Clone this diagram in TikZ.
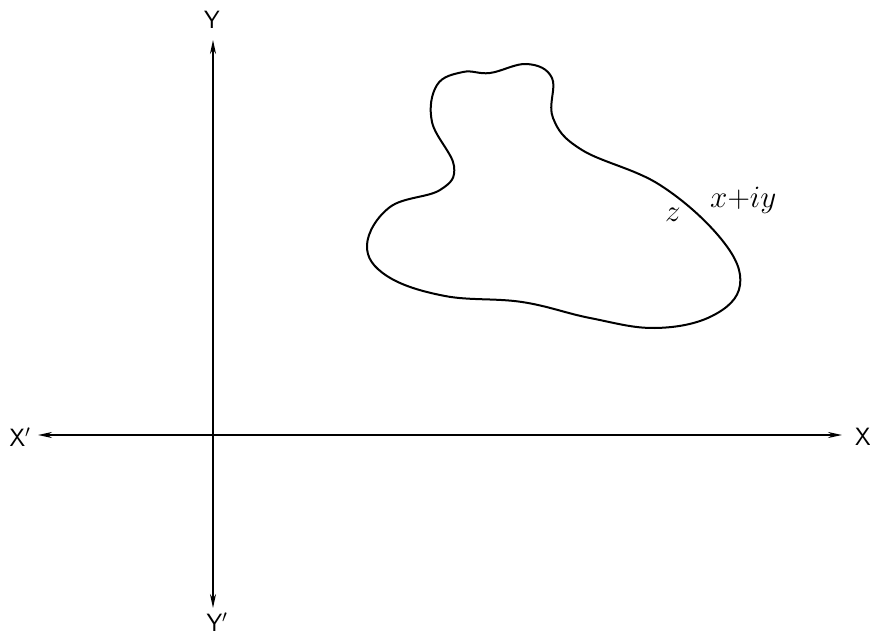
\documentclass[tikz,border=0pt]{standalone}
\usetikzlibrary{arrows.meta}
\tikzset{
  axis/.style={line width=1.8pt,-{Stealth[length=14pt,width=6pt]}},
  axlabel/.style={font=\sffamily\fontsize{25}{25}\selectfont,inner sep=0pt},
  curvelabel/.style={font=\fontsize{24.88}{25}\selectfont,inner sep=0pt},
  blob/.style={line width=2pt}
}
\newcommand{\biglab}[1]{\scalebox{1.25}{#1}}
\begin{document}
\begin{tikzpicture}[x=1pt,y=-1pt]
\useasboundingbox (0,0) rectangle (870,636);
\coordinate (O) at (213,435);
\coordinate (xl) at (38,435);
\coordinate (xr) at (842,435);
\coordinate (yt) at (213,40);
\coordinate (yb) at (213,608);
\draw[axis] (O) -- (xr);
\draw[axis] (O) -- (xl);
\draw[axis] (O) -- (yt);
\draw[axis] (O) -- (yb);
\node[axlabel] (X) at (863,437) {X};
\node[axlabel] (Xp) at (20,437) {X$'$};
\node[axlabel] (Y) at (212,20) {Y};
\node[axlabel] (Yp) at (217,622) {Y$'$};
\draw[blob] plot[smooth cycle, tension=0.65] coordinates {
 (463,72) (490,73) (527,64) (552,78) (553,118) (582,150)
 (660,185) (722,240) (740,285) (712,316) (655,328)
 (590,318) (522,302) (445,296) (387,276) (367,245) (390,207)
 (440,190) (454,166) (432,122) (437,85)};
\coordinate (zpt) at (693,207);
\node[curvelabel] (z) at (673,215) {\biglab{$z$}};
\node[curvelabel,anchor=west] (xiy) at (710,200) {\biglab{$x{+}iy$}};
\end{tikzpicture}
\end{document}
